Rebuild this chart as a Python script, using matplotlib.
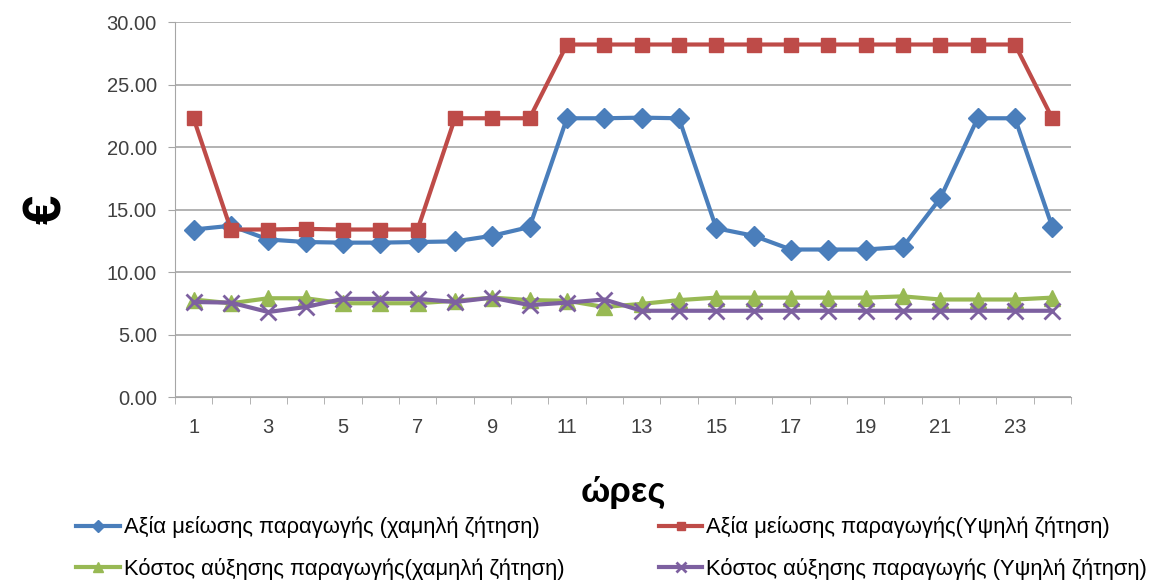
import matplotlib
matplotlib.use("Agg")
import matplotlib.pyplot as plt
from matplotlib.ticker import FormatStrFormatter, FixedLocator

plt.rcParams['font.family'] = ['Liberation Sans', 'DejaVu Sans']

hours = list(range(1, 25))

value_low = [13.4, 13.7, 12.6, 12.4, 12.35, 12.35, 12.4, 12.45, 12.9, 13.6,
             22.3, 22.3, 22.35, 22.3, 13.5, 12.9, 11.8, 11.8, 11.8, 12.0,
             15.9, 22.3, 22.3, 13.6]
value_high = [22.3, 13.4, 13.4, 13.45, 13.4, 13.4, 13.4, 22.3, 22.3, 22.3,
              28.2, 28.2, 28.2, 28.2, 28.2, 28.2, 28.2, 28.2, 28.2, 28.2,
              28.2, 28.2, 28.2, 22.3]
cost_low = [7.8, 7.5, 7.9, 7.9, 7.5, 7.5, 7.5, 7.7, 7.95, 7.75,
            7.7, 7.2, 7.45, 7.75, 7.95, 7.95, 7.95, 7.95, 7.95, 8.05,
            7.8, 7.8, 7.8, 7.95]
cost_high = [7.6, 7.55, 6.8, 7.2, 7.85, 7.85, 7.85, 7.6, 7.95, 7.35,
             7.55, 7.8, 6.9, 6.9, 6.9, 6.9, 6.9, 6.9, 6.9, 6.9,
             6.9, 6.9, 6.9, 6.9]

labels = [
    "Αξία μείωσης παραγωγής (χαμηλή ζήτηση)",
    "Αξία μείωσης παραγωγής(Υψηλή ζήτηση)",
    "Κόστος αύξησης παραγωγής(χαμηλή ζήτηση)",
    "Κόστος αύξησης παραγωγής (Υψηλή ζήτηση)",
]
y_ticks = [0, 5, 10, 15, 20, 25, 30]
x_tick_labels = [str(h) for h in range(1, 25, 2)]

fig = plt.figure(figsize=(11.66, 5.84), dpi=100)
ax = fig.add_axes([0.150, 0.3202, 0.7685, 0.6421])

h1, = ax.plot(hours, value_low, color='#4A7EBB', lw=3, marker='D', ms=10,
              label=labels[0])
h2, = ax.plot(hours, value_high, color='#BE4B48', lw=3, marker='s', ms=10,
              label=labels[1])
h3, = ax.plot(hours, cost_low, color='#98B954', lw=3, marker='^', ms=11,
              label=labels[2])
h4, = ax.plot(hours, cost_high, color='#7D60A0', lw=3, marker='x', ms=11,
              mew=2, label=labels[3])

ax.set_xlim(0.5, 24.5)
ax.set_ylim(0, 30)
ax.set_yticks(y_ticks)
ax.yaxis.set_major_formatter(FormatStrFormatter('%.2f'))
ax.grid(axis='y', color='#A6A6A6', lw=1.2)
ax.set_axisbelow(True)

ax.set_xticks(range(1, 25, 2))
ax.set_xticklabels(x_tick_labels)
ax.xaxis.set_minor_locator(FixedLocator([h + 0.5 for h in range(0, 25)]))
ax.tick_params(axis='x', which='major', length=0, pad=15, labelsize=14.5,
               colors='#404040')
ax.tick_params(axis='x', which='minor', length=5, color='#A6A6A6')
ax.tick_params(axis='y', length=5, color='#A6A6A6', labelsize=14.5,
               labelcolor='#404040', pad=8)

for side in ('top', 'right'):
    ax.spines[side].set_visible(False)
ax.spines['left'].set_color('#A6A6A6')
ax.spines['bottom'].set_color('#A6A6A6')

ax.set_xlabel("ώρες", fontsize=25, fontweight='bold', labelpad=28)
ax.set_ylabel("€", fontsize=38, fontweight='bold', labelpad=25)

# row-wise legend order for a two-column layout
fig.legend(handles=[h1, h3, h2, h4], loc='upper left', ncol=2,
           bbox_to_anchor=(0.058, 0.131), frameon=False, fontsize=15.8,
           handlelength=2.0, columnspacing=4.3, labelspacing=0.9,
           handletextpad=0.15, borderaxespad=0, markerscale=0.6)

fig.savefig("out.png", dpi=100)
